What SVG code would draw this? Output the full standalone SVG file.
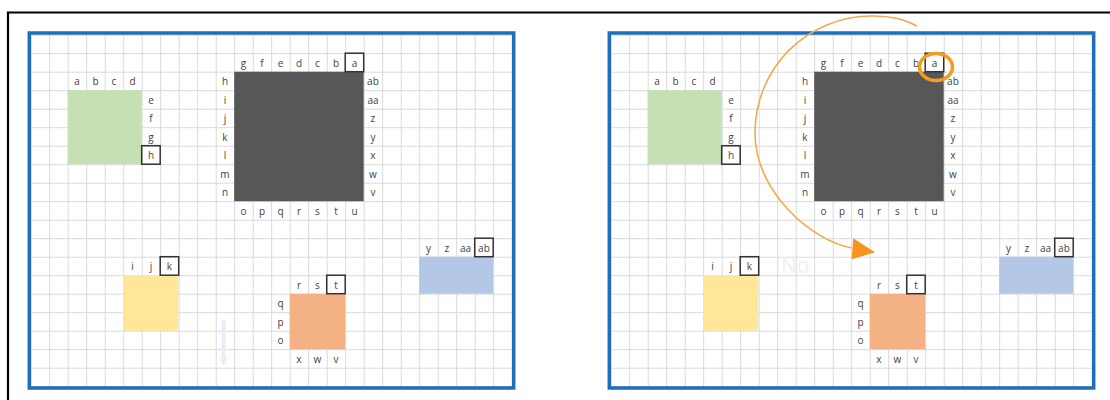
<svg xmlns="http://www.w3.org/2000/svg" width="1110" height="400" viewBox="0 0 1110 400">
<style>
.t{font-family:"Open Sans","DejaVu Sans",sans-serif;font-size:10px;fill:#3f3f3f;text-anchor:middle}
.sel{fill:none;stroke:#333;stroke-width:1.5}
.panel{fill:none;stroke:#1f6dbd;stroke-width:3.5}
</style>
<defs>
<pattern id="grid" patternUnits="userSpaceOnUse" x="30.7" y="34.7" width="18.5" height="18.5">
<path d="M0 0.5H18.5M0.5 0V18.5" stroke="#d9d9d9" stroke-width="1" fill="none"/>
</pattern>
</defs>
<rect width="1110" height="400" fill="#fff"/>
<path d="M8 400V12.5H1110" fill="none" stroke="#000" stroke-width="2.2"/>

<g id="left-panel">
<rect x="29.3" y="33" width="484.4" height="355" fill="url(#grid)"/>
<rect class="panel" x="29.3" y="33" width="484.4" height="355"/>
<g id="L-green">
<rect x="67.7" y="90.2" width="74" height="74" fill="#c5e0b4"/>
<text class="t" x="76.95" y="85">a</text><text class="t" x="95.45" y="85">b</text><text class="t" x="113.95" y="85">c</text><text class="t" x="132.45" y="85">d</text>
<text class="t" x="150.95" y="103.5">e</text><text class="t" x="150.95" y="122">f</text><text class="t" x="150.95" y="140.5">g</text><text class="t" x="150.95" y="159">h</text>
<rect class="sel" x="141.7" y="145.7" width="18.5" height="18.5"/>
</g>
<g id="L-dark">
<rect x="234.2" y="71.7" width="129.5" height="129.5" fill="#575757"/>
<text class="t" x="243.45" y="66.5">g</text><text class="t" x="261.95" y="66.5">f</text><text class="t" x="280.45" y="66.5">e</text><text class="t" x="298.95" y="66.5">d</text><text class="t" x="317.45" y="66.5">c</text><text class="t" x="335.95" y="66.5">b</text><text class="t" x="354.45" y="66.5">a</text>
<rect class="sel" x="345.2" y="53.2" width="18.5" height="18.5"/>
<text class="t" x="224.95" y="85">h</text><text class="t" x="224.95" y="103.5">i</text><text class="t" x="224.95" y="122">j</text><text class="t" x="224.95" y="140.5">k</text><text class="t" x="224.95" y="159">l</text><text class="t" x="224.95" y="177.5">m</text><text class="t" x="224.95" y="196">n</text>
<text class="t" x="372.95" y="85">ab</text><text class="t" x="372.95" y="103.5">aa</text><text class="t" x="372.95" y="122">z</text><text class="t" x="372.95" y="140.5">y</text><text class="t" x="372.95" y="159">x</text><text class="t" x="372.95" y="177.5">w</text><text class="t" x="372.95" y="196">v</text>
<text class="t" x="243.45" y="214.5">o</text><text class="t" x="261.95" y="214.5">p</text><text class="t" x="280.45" y="214.5">q</text><text class="t" x="298.95" y="214.5">r</text><text class="t" x="317.45" y="214.5">s</text><text class="t" x="335.95" y="214.5">t</text><text class="t" x="354.45" y="214.5">u</text>
</g>
<g id="L-yellow">
<rect x="123.2" y="275.2" width="55" height="55.5" fill="#ffe699"/>
<text class="t" x="132.45" y="270">i</text><text class="t" x="150.95" y="270">j</text><text class="t" x="169.45" y="270">k</text>
<rect class="sel" x="160.2" y="256.7" width="18.5" height="18.5"/>
</g>
<g id="L-orange">
<rect x="289.7" y="293.7" width="55.5" height="55.5" fill="#f4b183"/>
<text class="t" x="298.95" y="288.5">r</text><text class="t" x="317.45" y="288.5">s</text><text class="t" x="335.95" y="288.5">t</text>
<rect class="sel" x="326.7" y="275.2" width="18.5" height="18.5"/>
<text class="t" x="280.45" y="307">q</text><text class="t" x="280.45" y="325.5">p</text><text class="t" x="280.45" y="344">o</text>
<text class="t" x="298.95" y="362.5">x</text><text class="t" x="317.45" y="362.5">w</text><text class="t" x="335.95" y="362.5">v</text>
</g>
<g id="L-blue">
<rect x="419.2" y="256.7" width="74" height="37" fill="#b4c7e7"/>
<text class="t" x="428.45" y="251.5">y</text><text class="t" x="446.95" y="251.5">z</text><text class="t" x="465.45" y="251.5">aa</text><text class="t" x="483.95" y="251.5">ab</text>
<rect class="sel" x="474.7" y="238.2" width="18.5" height="18.5"/>
</g>
<g id="L-faint-arrow">
<path d="M223.5 320V360" stroke="#e4eff9" stroke-width="4"/>
<path d="M219.5 358H227.5L223.5 366Z" fill="#e4eff9"/>
</g>
</g>

<g id="right-panel" transform="translate(580,0)">
<rect x="29.3" y="33" width="484.4" height="355" fill="url(#grid)"/>
<rect class="panel" x="29.3" y="33" width="484.4" height="355"/>
<g id="R-green">
<rect x="67.7" y="90.2" width="74" height="74" fill="#c5e0b4"/>
<text class="t" x="76.95" y="85">a</text><text class="t" x="95.45" y="85">b</text><text class="t" x="113.95" y="85">c</text><text class="t" x="132.45" y="85">d</text>
<text class="t" x="150.95" y="103.5">e</text><text class="t" x="150.95" y="122">f</text><text class="t" x="150.95" y="140.5">g</text><text class="t" x="150.95" y="159">h</text>
<rect class="sel" x="141.7" y="145.7" width="18.5" height="18.5"/>
</g>
<g id="R-dark">
<rect x="234.2" y="71.7" width="129.5" height="129.5" fill="#575757"/>
<text class="t" x="243.45" y="66.5">g</text><text class="t" x="261.95" y="66.5">f</text><text class="t" x="280.45" y="66.5">e</text><text class="t" x="298.95" y="66.5">d</text><text class="t" x="317.45" y="66.5">c</text><text class="t" x="335.95" y="66.5">b</text><text class="t" x="354.45" y="66.5">a</text>
<rect class="sel" x="345.2" y="53.2" width="18.5" height="18.5"/>
<text class="t" x="224.95" y="85">h</text><text class="t" x="224.95" y="103.5">i</text><text class="t" x="224.95" y="122">j</text><text class="t" x="224.95" y="140.5">k</text><text class="t" x="224.95" y="159">l</text><text class="t" x="224.95" y="177.5">m</text><text class="t" x="224.95" y="196">n</text>
<text class="t" x="372.95" y="85">ab</text><text class="t" x="372.95" y="103.5">aa</text><text class="t" x="372.95" y="122">z</text><text class="t" x="372.95" y="140.5">y</text><text class="t" x="372.95" y="159">x</text><text class="t" x="372.95" y="177.5">w</text><text class="t" x="372.95" y="196">v</text>
<text class="t" x="243.45" y="214.5">o</text><text class="t" x="261.95" y="214.5">p</text><text class="t" x="280.45" y="214.5">q</text><text class="t" x="298.95" y="214.5">r</text><text class="t" x="317.45" y="214.5">s</text><text class="t" x="335.95" y="214.5">t</text><text class="t" x="354.45" y="214.5">u</text>
</g>
<g id="R-yellow">
<rect x="123.2" y="275.2" width="55" height="55.5" fill="#ffe699"/>
<text class="t" x="132.45" y="270">i</text><text class="t" x="150.95" y="270">j</text><text class="t" x="169.45" y="270">k</text>
<rect class="sel" x="160.2" y="256.7" width="18.5" height="18.5"/>
</g>
<g id="R-orange">
<rect x="289.7" y="293.7" width="55.5" height="55.5" fill="#f4b183"/>
<text class="t" x="298.95" y="288.5">r</text><text class="t" x="317.45" y="288.5">s</text><text class="t" x="335.95" y="288.5">t</text>
<rect class="sel" x="326.7" y="275.2" width="18.5" height="18.5"/>
<text class="t" x="280.45" y="307">q</text><text class="t" x="280.45" y="325.5">p</text><text class="t" x="280.45" y="344">o</text>
<text class="t" x="298.95" y="362.5">x</text><text class="t" x="317.45" y="362.5">w</text><text class="t" x="335.95" y="362.5">v</text>
</g>
<g id="R-blue">
<rect x="419.2" y="256.7" width="74" height="37" fill="#b4c7e7"/>
<text class="t" x="428.45" y="251.5">y</text><text class="t" x="446.95" y="251.5">z</text><text class="t" x="465.45" y="251.5">aa</text><text class="t" x="483.95" y="251.5">ab</text>
<rect class="sel" x="474.7" y="238.2" width="18.5" height="18.5"/>
</g>
</g>

<g id="R-faint-text">
<text x="781" y="273" font-family="Open Sans, DejaVu Sans, sans-serif" font-size="21" fill="#f0f0f0">No</text>
</g>
<g id="connectors">
<path d="M917 26C905 19 890 16 872 16C807 16 755 68 755 133C755 192 812 241 852 248" fill="none" stroke="#f2aa4c" stroke-width="1.6"/>
<path d="M853.3 238.3L851.7 259.3L875 252.3Z" fill="#f7941d"/>
<ellipse cx="936" cy="67" rx="16.5" ry="13.5" fill="none" stroke="#f39c1f" stroke-width="3.5"/>
</g>
</svg>
